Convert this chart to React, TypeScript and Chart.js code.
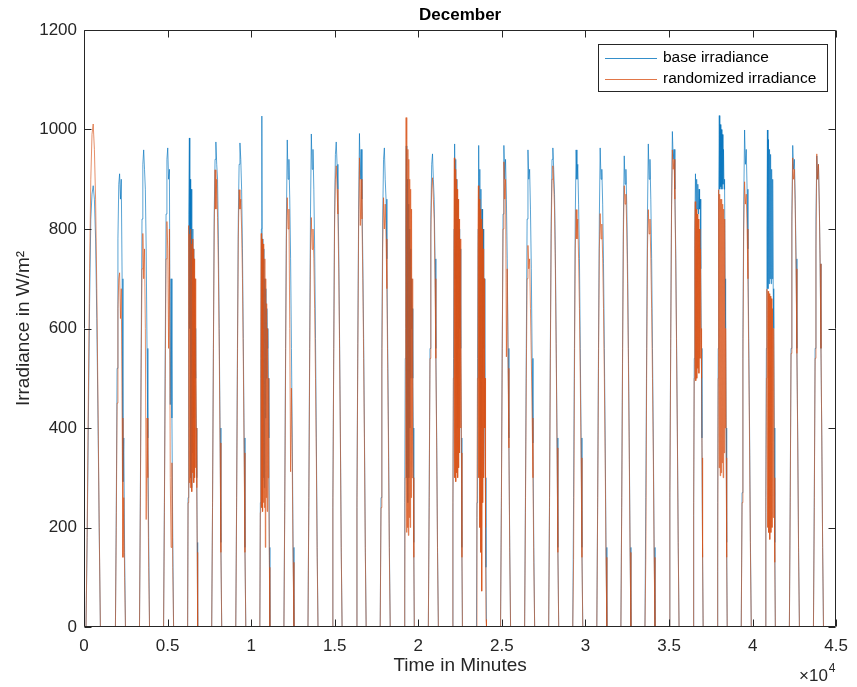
import { useEffect, useRef } from "react";
import { Chart, registerables } from "chart.js";

Chart.register(...registerables);

const DAY_MINUTES = 1440;
const FONT = '"Liberation Sans", Arial, Helvetica, sans-serif';
const AXIS_COLOR = "#262626";
const BLUE = "#0072BD";
const ORANGE = "#D95319";

// daylight window (minutes after midnight) for each December day
const sunrise = [120, 440, 440, 440, 440, 440, 440, 440, 440, 440, 440, 440, 440, 440, 440, 440, 440, 440, 440, 440, 440, 440, 440, 440, 440, 440, 440, 440, 440, 440, 440];
const sunset = [980, 1040, 1040, 1040, 1040, 1040, 1040, 1040, 1040, 1040, 1040, 1040, 1040, 1040, 1040, 1040, 1040, 1040, 1040, 1040, 1040, 1040, 1040, 1040, 1040, 1040, 1040, 1040, 1040, 1040, 1040];

// base irradiance readings through each day (W/m^2)
const baseDays: number[][] = [
  [0, 180, 420, 650, 820, 870, 887, 860, 780, 620, 420, 200, 0],
  [0, 230, 520, 780, 890, 911, 860, 900, 700, 292, 380, 150, 0],
  [0, 260, 560, 820, 930, 959, 920, 880, 760, 560, 380, 180, 0],
  [0, 250, 560, 830, 940, 963, 900, 920, 447, 700, 420, 180, 0],
  [0, 260, 560, 830, 983, 600, 900, 300, 880, 280, 820, 350, 800, 420, 760, 500, 700, 560, 600, 500, 400, 300, 170, 0],
  [0, 250, 560, 830, 940, 975, 930, 900, 780, 600, 400, 170, 0],
  [0, 260, 560, 820, 930, 973, 940, 880, 760, 580, 380, 160, 0],
  [0, 250, 540, 800, 1027, 600, 780, 300, 760, 280, 700, 420, 680, 500, 640, 560, 600, 500, 380, 160, 0],
  [0, 250, 560, 820, 979, 900, 940, 860, 740, 560, 380, 160, 0],
  [0, 260, 560, 830, 991, 920, 960, 880, 760, 580, 380, 160, 0],
  [0, 260, 560, 830, 950, 975, 930, 880, 760, 580, 380, 160, 0],
  [0, 260, 570, 840, 992, 900, 960, 860, 740, 580, 380, 160, 0],
  [0, 260, 560, 820, 940, 963, 900, 860, 740, 560, 380, 160, 0],
  [0, 250, 540, 800, 967, 300, 900, 250, 850, 300, 800, 400, 760, 500, 700, 600, 640, 500, 400, 170, 0],
  [0, 260, 560, 820, 930, 951, 900, 860, 740, 560, 380, 160, 0],
  [0, 250, 540, 800, 971, 700, 940, 500, 900, 400, 860, 560, 800, 600, 760, 560, 380, 160, 0],
  [0, 250, 540, 800, 968, 500, 920, 300, 880, 400, 840, 500, 800, 560, 700, 400, 300, 120, 0],
  [0, 260, 560, 830, 968, 900, 940, 860, 740, 560, 380, 160, 0],
  [0, 260, 560, 820, 959, 900, 920, 840, 720, 540, 370, 160, 0],
  [0, 260, 560, 820, 940, 963, 920, 870, 750, 570, 380, 160, 0],
  [0, 260, 560, 820, 959, 900, 930, 850, 740, 560, 380, 160, 0],
  [0, 260, 560, 820, 963, 900, 920, 850, 730, 560, 380, 160, 0],
  [0, 260, 560, 820, 947, 890, 920, 850, 730, 560, 380, 160, 0],
  [0, 260, 560, 830, 971, 900, 940, 860, 740, 560, 380, 160, 0],
  [0, 270, 580, 850, 996, 940, 960, 880, 760, 580, 390, 170, 0],
  [0, 250, 540, 800, 911, 830, 900, 840, 890, 830, 880, 840, 860, 720, 560, 380, 160, 0],
  [0, 250, 560, 880, 1028, 880, 1010, 885, 1000, 880, 990, 890, 960, 880, 900, 700, 600, 400, 170, 0],
  [0, 270, 580, 850, 999, 930, 960, 880, 760, 580, 390, 170, 0],
  [0, 260, 560, 800, 999, 680, 980, 690, 960, 700, 950, 690, 920, 700, 900, 680, 600, 400, 170, 0],
  [0, 260, 560, 830, 968, 920, 940, 860, 740, 560, 380, 160, 0],
  [0, 260, 560, 820, 947, 900, 930, 850, 730, 560, 380, 160, 0],
];

// randomized irradiance readings through each day (W/m^2)
const randDays: number[][] = [
  [0, 200, 470, 720, 900, 990, 1011, 960, 860, 680, 450, 210, 0],
  [0, 200, 450, 640, 700, 712, 620, 680, 420, 140, 260, 100, 0],
  [0, 240, 520, 720, 791, 700, 760, 600, 216, 420, 300, 120, 0],
  [0, 230, 500, 740, 815, 760, 560, 800, 300, 160, 330, 120, 0],
  [0, 250, 520, 807, 290, 790, 280, 800, 300, 770, 272, 780, 310, 760, 290, 740, 300, 700, 320, 600, 400, 280, 150, 0],
  [0, 240, 540, 800, 919, 840, 900, 823, 720, 560, 370, 150, 0],
  [0, 240, 520, 780, 879, 840, 860, 800, 700, 540, 350, 150, 0],
  [0, 230, 500, 791, 240, 780, 232, 770, 250, 760, 240, 740, 160, 700, 260, 650, 232, 600, 300, 500, 300, 120, 0],
  [0, 230, 520, 780, 863, 800, 840, 600, 312, 480, 320, 130, 0],
  [0, 240, 520, 760, 823, 759, 800, 740, 640, 500, 340, 140, 0],
  [0, 240, 540, 800, 900, 927, 880, 830, 720, 560, 370, 150, 0],
  [0, 240, 540, 800, 943, 807, 900, 820, 700, 540, 360, 150, 0],
  [0, 240, 520, 760, 863, 800, 850, 780, 680, 520, 340, 140, 0],
  [0, 60, 300, 600, 1024, 190, 980, 200, 960, 184, 940, 220, 900, 200, 880, 260, 840, 300, 700, 400, 300, 140, 0],
  [0, 240, 540, 790, 880, 903, 860, 820, 700, 540, 360, 150, 0],
  [0, 230, 500, 760, 943, 300, 920, 292, 900, 310, 880, 300, 860, 320, 820, 350, 780, 400, 600, 350, 140, 0],
  [0, 220, 500, 760, 887, 300, 860, 200, 840, 150, 820, 72, 800, 250, 760, 300, 700, 400, 500, 200, 15, 0],
  [0, 240, 540, 800, 935, 860, 900, 543, 720, 520, 360, 150, 0],
  [0, 230, 500, 700, 767, 720, 740, 640, 540, 420, 300, 130, 0],
  [0, 240, 540, 790, 900, 927, 890, 840, 720, 550, 360, 150, 0],
  [0, 136, 500, 760, 839, 780, 820, 740, 640, 500, 340, 140, 0],
  [0, 240, 520, 760, 831, 780, 810, 740, 640, 500, 340, 140, 0],
  [0, 240, 530, 790, 887, 850, 870, 800, 690, 530, 350, 150, 0],
  [0, 136, 500, 760, 839, 790, 820, 740, 640, 500, 340, 140, 0],
  [0, 260, 560, 830, 959, 920, 940, 860, 740, 560, 380, 160, 0],
  [0, 224, 500, 760, 855, 495, 840, 500, 830, 520, 820, 510, 800, 540, 760, 600, 500, 340, 140, 0],
  [0, 112, 500, 879, 320, 870, 304, 860, 310, 860, 330, 850, 300, 840, 350, 820, 400, 600, 340, 140, 0],
  [0, 250, 540, 800, 895, 850, 870, 800, 700, 540, 360, 150, 0],
  [0, 230, 500, 679, 200, 675, 190, 670, 176, 665, 190, 660, 200, 640, 220, 600, 300, 130, 0],
  [0, 250, 550, 810, 943, 900, 920, 840, 720, 550, 370, 150, 0],
  [0, 240, 540, 760, 951, 900, 930, 850, 730, 560, 380, 160, 0],
];

const xTicks = [0, 5000, 10000, 15000, 20000, 25000, 30000, 35000, 40000, 45000];
const xTickLabels = ["0", "0.5", "1", "1.5", "2", "2.5", "3", "3.5", "4", "4.5"];
const yTicks = [0, 200, 400, 600, 800, 1000, 1200];
const yTickLabels = ["0", "200", "400", "600", "800", "1000", "1200"];
const seriesLabels = ["base irradiance", "randomized irradiance"];

function buildPoints(days: number[][]) {
  const pts: { x: number; y: number }[] = [];
  days.forEach((vals, d) => {
    const start = d * DAY_MINUTES + sunrise[d];
    const span = sunset[d] - sunrise[d];
    const step = span / (vals.length - 1);
    vals.forEach((v, i) => pts.push({ x: start + i * step, y: v }));
  });
  return pts;
}

const decor = {
  id: "matlabDecor",
  afterDraw(chart: any) {
    const { ctx, chartArea: a, scales } = chart;
    const L = Math.round(a.left) + 0.5;
    const R = Math.round(a.right) - 0.5;
    const T = Math.round(a.top) + 0.5;
    const B = Math.round(a.bottom) - 0.5;
    const tl = 7;
    ctx.save();
    ctx.strokeStyle = AXIS_COLOR;
    ctx.lineWidth = 1;
    ctx.beginPath();
    ctx.rect(L, T, R - L, B - T);
    xTicks.forEach((v) => {
      const px = Math.round(scales.x.getPixelForValue(v)) + 0.5;
      ctx.moveTo(px, B);
      ctx.lineTo(px, B - tl);
      ctx.moveTo(px, T);
      ctx.lineTo(px, T + tl);
    });
    yTicks.forEach((v) => {
      const py = Math.round(scales.y.getPixelForValue(v)) + 0.5;
      ctx.moveTo(L, py);
      ctx.lineTo(L + tl, py);
      ctx.moveTo(R, py);
      ctx.lineTo(R - tl, py);
    });
    ctx.stroke();

    // title
    ctx.fillStyle = "#000";
    ctx.font = `bold 17px ${FONT}`;
    ctx.textAlign = "center";
    ctx.textBaseline = "middle";
    ctx.fillText("December", (a.left + a.right) / 2, 15);

    // exponent label
    ctx.fillStyle = AXIS_COLOR;
    ctx.textAlign = "left";
    ctx.textBaseline = "alphabetic";
    ctx.font = `17px ${FONT}`;
    const base = "\u00d710";
    ctx.fillText(base, 799, 681);
    const w = ctx.measureText(base).width;
    ctx.font = `12px ${FONT}`;
    ctx.fillText("4", 799 + w + 1, 672);

    // legend
    const lx = 598, ly = 44, lw = 229, lh = 47;
    ctx.fillStyle = "#fff";
    ctx.fillRect(lx, ly, lw, lh);
    ctx.strokeStyle = AXIS_COLOR;
    ctx.lineWidth = 1;
    ctx.strokeRect(lx + 0.5, ly + 0.5, lw, lh);
    const colors = [BLUE, ORANGE];
    const rows = [58, 79];
    ctx.font = `15.5px ${FONT}`;
    ctx.textBaseline = "middle";
    seriesLabels.forEach((lab, i) => {
      ctx.strokeStyle = colors[i];
      ctx.lineWidth = 0.8;
      ctx.beginPath();
      ctx.moveTo(605, rows[i] + 0.5);
      ctx.lineTo(657, rows[i] + 0.5);
      ctx.stroke();
      ctx.fillStyle = "#000";
      ctx.fillText(lab, 663, rows[i]);
    });
    ctx.restore();
  },
};

export default function App() {
  const ref = useRef<HTMLCanvasElement | null>(null);
  useEffect(() => {
    if (!ref.current) return;
    const chart = new Chart(ref.current, {
      type: "line",
      data: {
        datasets: [
          {
            label: seriesLabels[0],
            data: buildPoints(baseDays),
            borderColor: BLUE,
            borderWidth: 0.65,
            pointRadius: 0,
            tension: 0,
            order: 2,
          },
          {
            label: seriesLabels[1],
            data: buildPoints(randDays),
            borderColor: ORANGE,
            borderWidth: 0.65,
            pointRadius: 0,
            tension: 0,
            order: 1,
          },
        ],
      },
      options: {
        animation: false,
        responsive: false,
        devicePixelRatio: 1,
        layout: { padding: { left: 0, right: 17, top: 30, bottom: 0 } },
        plugins: {
          legend: { display: false },
          tooltip: { enabled: false },
          title: { display: false },
        },
        scales: {
          x: {
            type: "linear",
            min: 0,
            max: 45000,
            grid: { display: false, drawTicks: false },
            border: { display: false },
            afterBuildTicks: (s: any) => {
              s.ticks = xTicks.map((v) => ({ value: v }));
            },
            afterFit: (s: any) => {
              s.height = 60;
            },
            ticks: {
              autoSkip: false,
              maxRotation: 0,
              padding: 9,
              color: AXIS_COLOR,
              font: { family: FONT, size: 17 },
              callback: (v: any) => xTickLabels[xTicks.indexOf(Number(v))],
            },
            title: {
              display: true,
              text: "Time in Minutes",
              color: AXIS_COLOR,
              font: { family: FONT, size: 19 },
              padding: { top: 0, bottom: 10 },
            },
          },
          y: {
            type: "linear",
            min: 0,
            max: 1200,
            grid: { display: false, drawTicks: false },
            border: { display: false },
            afterBuildTicks: (s: any) => {
              s.ticks = yTicks.map((v) => ({ value: v }));
            },
            afterFit: (s: any) => {
              s.width = 84;
            },
            ticks: {
              padding: 7,
              color: AXIS_COLOR,
              font: { family: FONT, size: 17 },
              callback: (v: any) => yTickLabels[yTicks.indexOf(Number(v))],
            },
            title: {
              display: true,
              text: "Irradiance in W/m\u00b2",
              color: AXIS_COLOR,
              font: { family: FONT, size: 19 },
              padding: { top: 12, bottom: 0 },
            },
          },
        },
      },
      plugins: [decor],
    });
    return () => chart.destroy();
  }, []);
  return (
    <div style={{ position: "absolute", left: 0, top: 0, width: 857, height: 687, background: "#fff" }}>
      <canvas ref={ref} width={857} height={687} style={{ width: 857, height: 687 }} />
    </div>
  );
}
